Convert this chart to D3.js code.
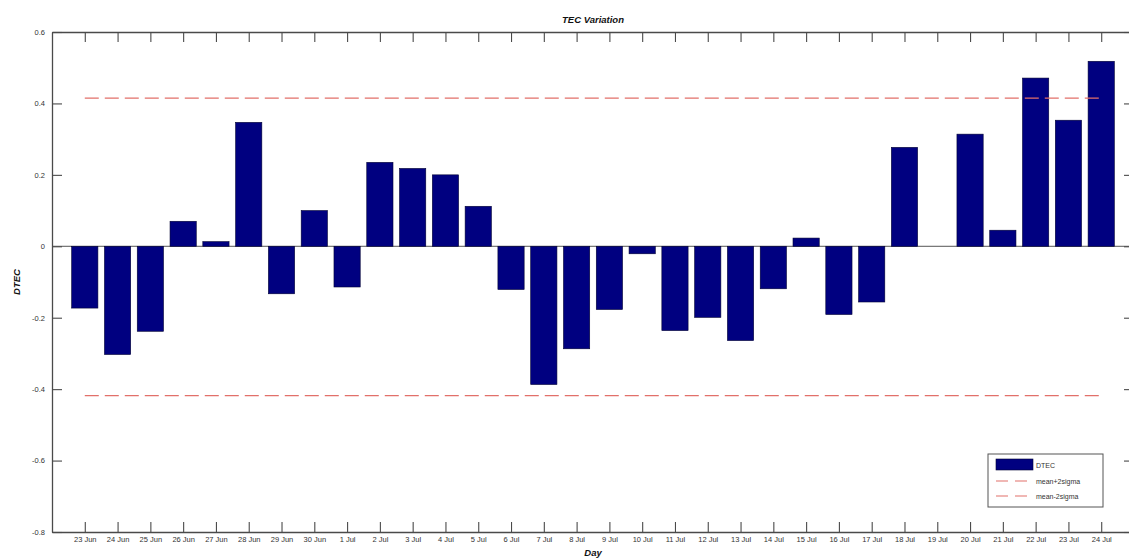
<!DOCTYPE html>
<html>
<head>
<meta charset="utf-8">
<script src="https://cdn.jsdelivr.net/npm/d3@7"></script>
<style>
  html, body { margin: 0; padding: 0; background: #fff; }
  svg { display: block; font-family: "Liberation Sans", Arial, sans-serif; }
</style>
</head>
<body>
<svg id="chart" width="1129" height="560"></svg>
<script>
// ---- data ----
const days = ["23 Jun","24 Jun","25 Jun","26 Jun","27 Jun","28 Jun","29 Jun","30 Jun",
  "1 Jul","2 Jul","3 Jul","4 Jul","5 Jul","6 Jul","7 Jul","8 Jul","9 Jul","10 Jul",
  "11 Jul","12 Jul","13 Jul","14 Jul","15 Jul","16 Jul","17 Jul","18 Jul","19 Jul",
  "20 Jul","21 Jul","22 Jul","23 Jul","24 Jul"];
const dtec = [-0.173, -0.303, -0.238, 0.070, 0.013, 0.347, -0.133, 0.100,
  -0.114, 0.235, 0.218, 0.200, 0.112, -0.121, -0.387, -0.287, -0.177, -0.021,
  -0.236, -0.199, -0.264, -0.119, 0.023, -0.191, -0.156, 0.277, 0.0,
  0.314, 0.045, 0.471, 0.353, 0.518];
const meanPlus2Sigma = 0.415;
const meanMinus2Sigma = -0.418;
const yTicks = [-0.8, -0.6, -0.4, -0.2, 0, 0.2, 0.4, 0.6];
const seriesNames = ["DTEC", "mean+2sigma", "mean-2sigma"];

// ---- layout ----
const svg = d3.select("#chart");
const mLeft = 52, mRight = 1134, mTop = 32, mBottom = 532;
const x = d3.scaleLinear().domain([0, days.length + 1]).range([mLeft, mRight]);
const y = d3.scaleLinear().domain([-0.8, 0.6]).range([mBottom, mTop]);
const step = x(1) - x(0);
const barW = step * 0.8;
const axisColor = "#4a4a4a";
const fmt = v => (v === 0 ? "0" : (v < 0 ? "-" : "") + Math.abs(v).toFixed(1));

// zero baseline
svg.append("line")
  .attr("x1", mLeft).attr("x2", mRight)
  .attr("y1", y(0)).attr("y2", y(0))
  .attr("stroke", "#555").attr("stroke-width", 1);

// bars
svg.append("g").selectAll("rect").data(dtec).join("rect")
  .attr("x", (d, i) => x(i + 1) - barW / 2)
  .attr("width", barW)
  .attr("y", d => y(Math.max(0, d)))
  .attr("height", d => Math.abs(y(d) - y(0)))
  .attr("fill", "#000080")
  .attr("stroke", "#000033").attr("stroke-width", 0.6);

// threshold lines
[meanPlus2Sigma, meanMinus2Sigma].forEach(v => {
  svg.append("line")
    .attr("x1", x(1)).attr("x2", x(days.length))
    .attr("y1", y(v)).attr("y2", y(v))
    .attr("stroke", "#e2706a").attr("stroke-width", 1.3)
    .attr("stroke-dasharray", "14,6");
});

// axes
function styleAxis(g) {
  g.selectAll("path.domain").attr("stroke", axisColor).attr("stroke-width", 1.3);
  g.selectAll(".tick line").attr("stroke", axisColor).attr("stroke-width", 1.1);
  g.selectAll(".tick text").attr("fill", "#333").style("font-size", "7.5px");
}
const tickVals = days.map((d, i) => i + 1);

svg.append("g").attr("transform", `translate(0,${mBottom})`)
  .call(d3.axisBottom(x).tickValues(tickVals).tickFormat((d) => days[d - 1])
    .tickSizeInner(-10).tickSizeOuter(0).tickPadding(5))
  .call(styleAxis);

svg.append("g").attr("transform", `translate(0,${mTop})`)
  .call(d3.axisTop(x).tickValues(tickVals).tickFormat("")
    .tickSizeInner(-10).tickSizeOuter(0))
  .call(styleAxis);

svg.append("g").attr("transform", `translate(${mLeft},0)`)
  .call(d3.axisLeft(y).tickValues(yTicks).tickFormat(fmt)
    .tickSizeInner(-10).tickSizeOuter(0).tickPadding(7))
  .call(styleAxis);

svg.append("g").attr("transform", `translate(${mRight},0)`)
  .call(d3.axisRight(y).tickValues(yTicks).tickFormat("")
    .tickSizeInner(-10).tickSizeOuter(0))
  .call(styleAxis);

// titles
svg.append("text")
  .attr("x", (mLeft + mRight) / 2).attr("y", 23)
  .attr("text-anchor", "middle")
  .style("font-size", "9.5px").style("font-weight", "bold").style("font-style", "italic")
  .attr("fill", "#111").text("TEC Variation");

svg.append("text")
  .attr("x", (mLeft + mRight) / 2).attr("y", 556)
  .attr("text-anchor", "middle")
  .style("font-size", "9.5px").style("font-weight", "bold").style("font-style", "italic")
  .attr("fill", "#111").text("Day");

svg.append("text")
  .attr("transform", `translate(20,${(mTop + mBottom) / 2}) rotate(-90)`)
  .attr("text-anchor", "middle")
  .style("font-size", "9.5px").style("font-weight", "bold").style("font-style", "italic")
  .attr("fill", "#111").text("DTEC");

// legend
const lg = svg.append("g").attr("transform", "translate(988,454)");
lg.append("rect").attr("width", 115).attr("height", 53)
  .attr("fill", "#fff").attr("stroke", "#555").attr("stroke-width", 1);
const rows = [11, 27, 42];
lg.append("rect").attr("x", 8).attr("y", 5).attr("width", 37).attr("height", 11)
  .attr("fill", "#000080").attr("stroke", "#000033").attr("stroke-width", 0.6);
[1, 2].forEach(k => {
  lg.append("line").attr("x1", 8).attr("x2", 45)
    .attr("y1", rows[k]).attr("y2", rows[k])
    .attr("stroke", "#e2706a").attr("stroke-width", 1.2)
    .attr("stroke-dasharray", "12,7");
});
seriesNames.forEach((n, k) => {
  lg.append("text").attr("x", 48).attr("y", rows[k] + 2.5)
    .style("font-size", "7px").attr("fill", "#333").text(n);
});
</script>
</body>
</html>
